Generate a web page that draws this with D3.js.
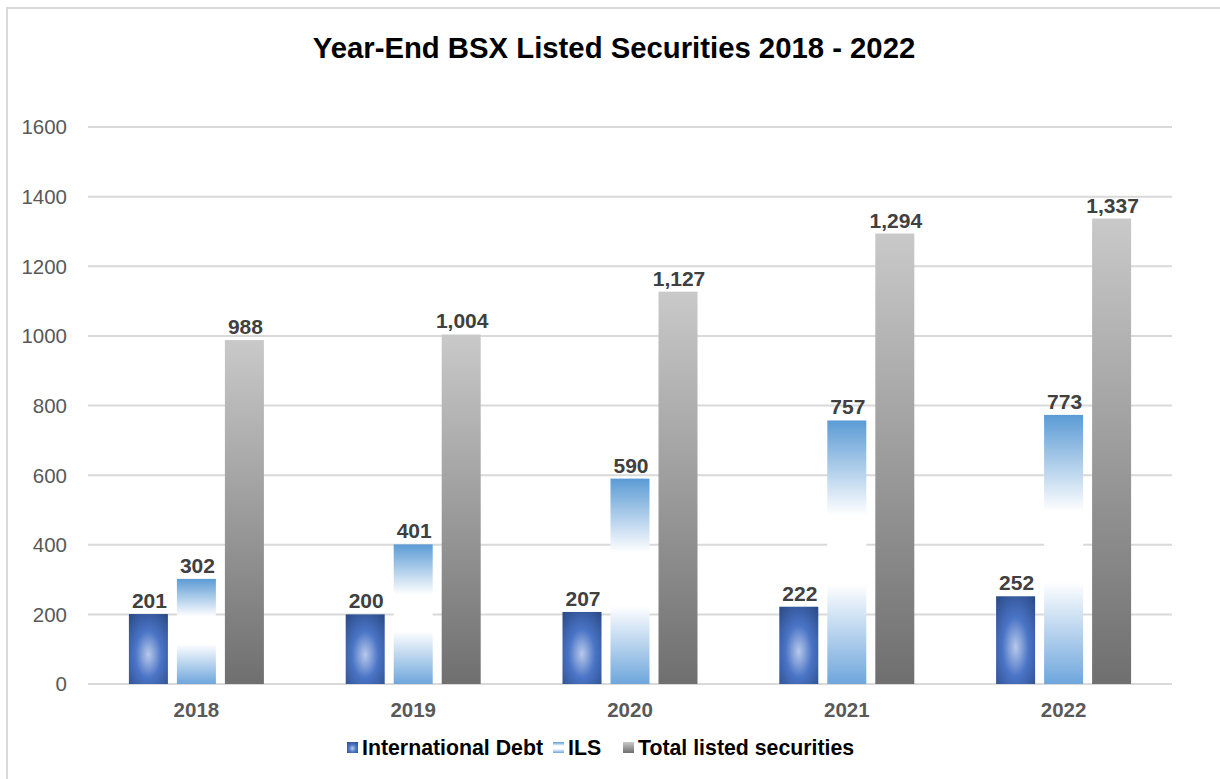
<!DOCTYPE html>
<html>
<head>
<meta charset="utf-8">
<script src="https://cdn.jsdelivr.net/npm/d3@7"></script>
<style>
  body { margin: 0; background: #fff; }
  svg { display: block; font-family: "Liberation Sans", Arial, sans-serif; }
</style>
</head>
<body>
<script>
  var width = 1220;
  var height = 779;

  // data
  var years = ['2018', '2019', '2020', '2021', '2022'];
  var seriesNames = ['International Debt', 'ILS', 'Total listed securities'];
  var intlDebt = [201, 200, 207, 222, 252];
  var ils = [302, 401, 590, 757, 773];
  var totalListed = [988, 1004, 1127, 1294, 1337];
  var yTicks = [0, 200, 400, 600, 800, 1000, 1200, 1400, 1600];

  var seriesValues = [intlDebt, ils, totalListed];
  var fills = ['url(#gDebt)', 'url(#gIls)', 'url(#gTotal)'];

  var svg = d3.select('body').append('svg')
    .attr('width', width)
    .attr('height', height);

  // gradients
  var defs = svg.append('defs');
  var rg = defs.append('radialGradient').attr('id', 'gDebt')
    .attr('cx', 0.5).attr('cy', 0.58).attr('r', 0.75).attr('fx', 0.5).attr('fy', 0.58);
  rg.append('stop').attr('offset', '0%').attr('stop-color', '#b8c9ea');
  rg.append('stop').attr('offset', '45%').attr('stop-color', '#4a74c6');
  rg.append('stop').attr('offset', '100%').attr('stop-color', '#2a4a85');

  var lg = defs.append('linearGradient').attr('id', 'gIls')
    .attr('x1', 0).attr('y1', 0).attr('x2', 0).attr('y2', 1);
  lg.append('stop').attr('offset', '0%').attr('stop-color', '#5b9bd5');
  lg.append('stop').attr('offset', '36%').attr('stop-color', '#ffffff');
  lg.append('stop').attr('offset', '62%').attr('stop-color', '#ffffff');
  lg.append('stop').attr('offset', '100%').attr('stop-color', '#6ea6dc');

  var tg = defs.append('linearGradient').attr('id', 'gTotal')
    .attr('x1', 0).attr('y1', 0).attr('x2', 0).attr('y2', 1);
  tg.append('stop').attr('offset', '0%').attr('stop-color', '#c9c9c9');
  tg.append('stop').attr('offset', '100%').attr('stop-color', '#6f6f6f');

  // frame
  svg.append('path')
    .attr('d', 'M7,' + height + 'V8H' + width)
    .attr('fill', 'none')
    .attr('stroke', '#d9d9d9')
    .attr('stroke-width', 2);

  // scales
  var x0 = d3.scaleBand().domain(years).range([88, 1172]);
  var groupW = 135;
  var x1 = d3.scaleBand().domain(seriesNames)
    .range([(x0.bandwidth() - groupW) / 2, (x0.bandwidth() + groupW) / 2])
    .paddingInner(0.1875);
  var y = d3.scaleLinear().domain([0, 1600]).range([684, 127]);

  // gridlines
  svg.append('g').selectAll('line')
    .data(yTicks)
    .enter().append('line')
    .attr('x1', 88).attr('x2', 1172)
    .attr('y1', d => y(d)).attr('y2', d => y(d))
    .attr('stroke', '#d9d9d9')
    .attr('stroke-width', 2);

  // y axis labels
  svg.append('g').selectAll('text')
    .data(yTicks)
    .enter().append('text')
    .attr('x', 67)
    .attr('y', d => y(d))
    .attr('dy', '0.36em')
    .attr('text-anchor', 'end')
    .attr('font-size', 20.5)
    .attr('fill', '#595959')
    .text(d => d);

  // bars
  var groups = svg.append('g').selectAll('g')
    .data(years)
    .enter().append('g')
    .attr('transform', d => 'translate(' + x0(d) + ',0)');

  groups.selectAll('rect')
    .data((d, i) => seriesNames.map((s, j) => ({ s: s, j: j, v: seriesValues[j][i] })))
    .enter().append('rect')
    .attr('x', d => x1(d.s))
    .attr('width', x1.bandwidth())
    .attr('y', d => y(d.v))
    .attr('height', d => y(0) - y(d.v))
    .attr('fill', d => fills[d.j]);

  groups.selectAll('text')
    .data((d, i) => seriesNames.map((s, j) => ({ s: s, j: j, v: seriesValues[j][i] })))
    .enter().append('text')
    .attr('x', d => x1(d.s) + x1.bandwidth() / 2 + 1)
    .attr('y', d => y(d.v) - 6)
    .attr('text-anchor', 'middle')
    .attr('font-size', 21)
    .attr('font-weight', 'bold')
    .attr('fill', '#404040')
    .text(d => d3.format(',')(d.v));

  // x labels
  svg.append('g').selectAll('text')
    .data(years)
    .enter().append('text')
    .attr('x', d => x0(d) + x0.bandwidth() / 2)
    .attr('y', 717)
    .attr('text-anchor', 'middle')
    .attr('font-size', 20.5)
    .attr('font-weight', 'bold')
    .attr('fill', '#595959')
    .text(d => d);

  // title
  svg.append('text')
    .attr('x', 614)
    .attr('y', 58)
    .attr('text-anchor', 'middle')
    .attr('font-size', 29.3)
    .attr('font-weight', 'bold')
    .attr('fill', '#000')
    .text('Year-End BSX Listed Securities 2018 - 2022');

  // legend
  var legendX = [347, 553, 623];
  var legend = svg.append('g').selectAll('g')
    .data(seriesNames)
    .enter().append('g')
    .attr('transform', (d, i) => 'translate(' + legendX[i] + ',742)');
  legend.append('rect')
    .attr('width', 11).attr('height', 11)
    .attr('fill', (d, i) => fills[i]);
  legend.append('text')
    .attr('x', 15)
    .attr('y', 13)
    .attr('font-size', 21.3)
    .attr('font-weight', 'bold')
    .attr('fill', '#000')
    .text(d => d);
</script>
</body>
</html>
